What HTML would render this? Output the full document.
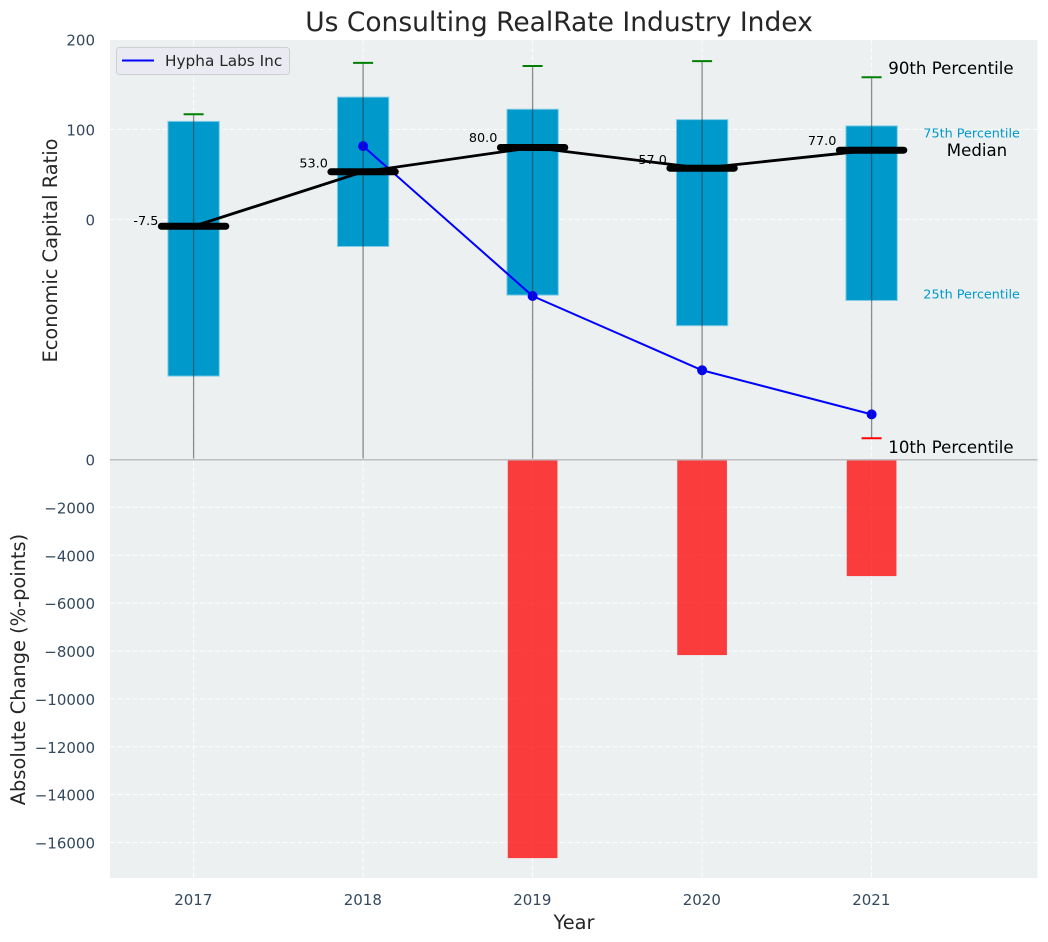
<!DOCTYPE html>
<html>
<head>
<meta charset="utf-8">
<title>Us Consulting RealRate Industry Index</title>
<style>
html,body{margin:0;padding:0;background:#fff;}
svg{display:block;font-family:"DejaVu Sans","Liberation Sans",sans-serif;}
</style>
</head>
<body>
<svg id="chart" width="1048" height="942" viewBox="0 0 1048 942" xmlns="http://www.w3.org/2000/svg">
  <defs>
    <clipPath id="top-clip"><rect x="110" y="40" width="927.5" height="418.5"></rect></clipPath>
  </defs>
  <rect x="110" y="40" width="927.5" height="419.5" fill="#ecf0f1"></rect>
  <rect x="110" y="459.5" width="927.5" height="418.5" fill="#ecf0f1"></rect>
  <g id="grid"></g>
  <g id="marks"></g>
  <g id="ticks"></g>
  <text x="559" y="31" font-size="26.5px" text-anchor="middle" fill="#262626">Us Consulting RealRate Industry Index</text>
  <text transform="translate(57,250.5) rotate(-90)" font-size="19.4px" text-anchor="middle" fill="#262626">Economic Capital Ratio</text>
  <text transform="translate(25,669.5) rotate(-90)" font-size="19.4px" text-anchor="middle" fill="#262626">Absolute Change (%-points)</text>
  <text x="574" y="929" font-size="19.4px" text-anchor="middle" fill="#262626">Year</text>
  <g>
    <rect x="116.5" y="47.5" width="173" height="27" rx="3" fill="#eaeaf2" fill-opacity="0.85" stroke="#d0d0d4"></rect>
    <line x1="122" y1="60.5" x2="154" y2="60.5" stroke="#0000ff" stroke-width="2"></line>
    <text x="165" y="66" font-size="15.3px" fill="#262626">Hypha Labs Inc</text>
  </g>
</svg>
<script>
const years = [2017, 2018, 2019, 2020, 2021];
const p90 = [117, 174, 170.5, 176, 158];
const p75 = [109, 136, 122.5, 111, 104];
const median = [-7.5, 53, 80, 57, 77];
const p25 = [-174, -30, -84, -118, -90];
const p10 = [-330, -330, -330, -330, -243];
const company = [null, 81.5, -85, -167.5, -216.5];
const absChange = [null, null, -16650, -8170, -4870];
const topTicks = [200, 100, 0];
const bottomTicks = [0, -2000, -4000, -6000, -8000, -10000, -12000, -14000, -16000];
const medianLabels = ['-7.5', '53.0', '80.0', '57.0', '77.0'];

const NS = 'http://www.w3.org/2000/svg';
const xScale = function (v) { return 193.6 + (v - 2017) * 169.5; };
const yTop = function (v) { return 219.5 - v * 0.9; };
const yBottom = function (v) { return 459.5 - v * 0.02394; };
const px = function (units) { return units * 169.5; };
const gridG = document.getElementById('grid');
const marksG = document.getElementById('marks');
const ticksG = document.getElementById('ticks');

function make(parent, tag, attrs, text) {
  const el = document.createElementNS(NS, tag);
  for (const k in attrs) el.setAttribute(k, attrs[k]);
  if (text !== undefined) el.textContent = text;
  parent.appendChild(el);
  return el;
}

// grid
years.forEach(function (yr) {
  const g = make(gridG, 'line', { x1: xScale(yr), x2: xScale(yr), y1: 40, y2: 878, stroke: '#fff', 'stroke-width': 1, 'stroke-dasharray': '5 2.5', 'stroke-opacity': 0.9 });
  
  
});
topTicks.forEach(function (t) {
  const g = make(gridG, 'line', { x1: 110, x2: 1037.5, y1: yTop(t), y2: yTop(t), stroke: '#fff', 'stroke-width': 1, 'stroke-dasharray': '5 2.5', 'stroke-opacity': 0.9 });
  
  
});
bottomTicks.forEach(function (t) {
  const g = make(gridG, 'line', { x1: 110, x2: 1037.5, y1: yBottom(t), y2: yBottom(t), stroke: '#fff', 'stroke-width': 1, 'stroke-dasharray': '5 2.5', 'stroke-opacity': 0.9 });
  
  
});

// percentile boxes
years.forEach(function (yr, i) {
  const top = yTop(p75[i]);
  const bot = yTop(p25[i]);
  const w = px(0.303);
  const box = make(marksG, 'rect', { x: xScale(yr) - w / 2, y: top, width: w, height: bot - top, fill: '#0099cc', stroke: '#80cce5', 'stroke-width': 1 });
  
  
});

// change bars
years.forEach(function (yr, i) {
  if (absChange[i] === null) return;
  const w = px(0.293);
  const bar = make(marksG, 'rect', { x: xScale(yr) - w / 2, y: yBottom(0), width: w, height: yBottom(absChange[i]) - yBottom(0), fill: '#ff0000', 'fill-opacity': 0.75 });
  
  
});

// company line
let companyPts = [];
years.forEach(function (yr, i) {
  if (company[i] !== null) companyPts.push(xScale(yr) + ',' + yTop(company[i]));
});
const companyLine = make(marksG, 'polyline', { points: companyPts.join(' '), fill: 'none', stroke: '#0000ff', 'stroke-width': 2 });


years.forEach(function (yr, i) {
  if (company[i] === null) return;
  const dot = make(marksG, 'circle', { cx: xScale(yr), cy: yTop(company[i]), r: 5, fill: '#0000ff' });
  
  
});

// whiskers and caps
years.forEach(function (yr, i) {
  const x = xScale(yr);
  const w = make(marksG, 'line', { x1: x, x2: x, y1: yTop(p90[i]), y2: yTop(p10[i]), stroke: '#333', 'stroke-opacity': 0.55, 'stroke-width': 1.3, 'clip-path': 'url(#top-clip)' });
  
  
  const capHi = make(marksG, 'line', { x1: x - 10, x2: x + 10, y1: yTop(p90[i]), y2: yTop(p90[i]), stroke: '#008000', 'stroke-width': 2 });
  
  
  const capLo = make(marksG, 'line', { x1: x - 10, x2: x + 10, y1: yTop(p10[i]), y2: yTop(p10[i]), stroke: '#ff0000', 'stroke-width': 2, 'clip-path': 'url(#top-clip)' });
  
  
});

// panel divider
const divider = make(marksG, 'line', { x1: 110, x2: 1037.5, y1: 459.7, y2: 459.7, stroke: '#bdbdbd', 'stroke-width': 1.5 });



// median trend and bars
const medianPts = years.map(function (yr, i) { return xScale(yr) + ',' + yTop(median[i]); });
const medianLine = make(marksG, 'polyline', { points: medianPts.join(' '), fill: 'none', stroke: '#000', 'stroke-width': 2.8 });


years.forEach(function (yr, i) {
  const x = xScale(yr);
  const half = px(0.19);
  const m = make(marksG, 'line', { x1: x - half, x2: x + half, y1: yTop(median[i]), y2: yTop(median[i]), stroke: '#000', 'stroke-width': 7, 'stroke-linecap': 'round' });
  
  
  const label = make(marksG, 'text', { x: x - 35.2, y: yTop(median[i] * 1.05 + 7) + 4.5, 'font-size': '12.8px', 'text-anchor': 'end', fill: '#000' }, medianLabels[i]);
  
  
});

// percentile annotations, anchored to the final year
const last = years.length - 1;
const lastX = xScale(years[last]);
const ann90 = make(marksG, 'text', { x: lastX + 16.7, y: yTop(p90[last]) - 3.5, 'font-size': '16.6px', fill: '#000' }, '90th Percentile');


const ann10 = make(marksG, 'text', { x: lastX + 16.7, y: yTop(p10[last]) + 15, 'font-size': '16.6px', fill: '#000' }, '10th Percentile');


const ann75 = make(marksG, 'text', { x: lastX + 51.7, y: yTop(p75[last]) + 11.5, 'font-size': '12.8px', fill: '#0099cc' }, '75th Percentile');


const ann25 = make(marksG, 'text', { x: lastX + 51.7, y: yTop(p25[last]) - 2, 'font-size': '12.8px', fill: '#0099cc' }, '25th Percentile');


const annMed = make(marksG, 'text', { x: lastX + 75.2, y: yTop(median[last]) + 6, 'font-size': '16.6px', fill: '#000' }, 'Median');



// tick labels
const tickColor = '#34495e';
topTicks.forEach(function (t) {
  const el = make(ticksG, 'text', { x: 95, y: yTop(t) + 6, 'font-size': '15px', 'text-anchor': 'end', fill: tickColor }, String(t));
  
  
});
bottomTicks.forEach(function (t) {
  const el = make(ticksG, 'text', { x: 95, y: yBottom(t) + 6, 'font-size': '15px', 'text-anchor': 'end', fill: tickColor }, String(t).replace('-', '\u2212'));
  
  
});
years.forEach(function (yr) {
  const el = make(ticksG, 'text', { x: xScale(yr) - 0.3, y: 905, 'font-size': '15px', 'text-anchor': 'middle', fill: tickColor }, String(yr));
  
  
});
</script>
</body>
</html>
